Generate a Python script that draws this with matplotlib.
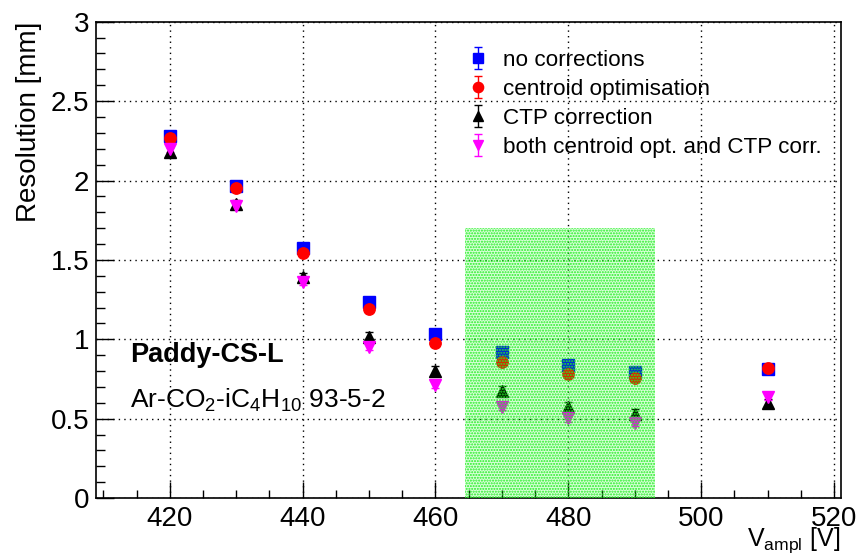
import matplotlib
matplotlib.use("Agg")
import matplotlib.pyplot as plt
from matplotlib.patches import Rectangle
from matplotlib.ticker import MultipleLocator, FuncFormatter

plt.rcParams["font.family"] = ["Liberation Sans", "DejaVu Sans"]
plt.rcParams["mathtext.fontset"] = "custom"
plt.rcParams["mathtext.rm"] = "Liberation Sans"
plt.rcParams["mathtext.it"] = "Liberation Sans"
plt.rcParams["hatch.linewidth"] = 1.0

# Amplification voltages [V]
voltage = [420, 430, 440, 450, 460, 470, 480, 490, 510]

# Spatial resolution [mm] for each reconstruction variant
res_none = [2.28, 1.965, 1.575, 1.237, 1.033, 0.922, 0.836, 0.792, 0.815]
res_centroid = [2.265, 1.955, 1.545, 1.191, 0.975, 0.857, 0.781, 0.756, 0.819]
res_ctp = [2.18, 1.85, 1.39, 1.013, 0.802, 0.676, 0.576, 0.530, 0.597]
res_both = [2.20, 1.84, 1.36, 0.950, 0.712, 0.576, 0.502, 0.471, 0.635]

err_none = [0.01] * 9
err_centroid = [0.01] * 9
err_ctp = [0.03] * 9
err_both = [0.02] * 9

labels = ["no corrections", "centroid optimisation", "CTP correction",
          "both centroid opt. and CTP corr."]

# Highlighted working range
band_x = (464.5, 493.0)
band_top = 1.7

W, H = 859, 554
fig = plt.figure(figsize=(W / 100, H / 100), dpi=100)
ax = fig.add_axes([96 / W, 1 - 498.1 / H, (840.7 - 96) / W, (498.1 - 21.7) / H])

series = [
    (res_none, err_none, "s", "#0000ff", 8.0),
    (res_centroid, err_centroid, "o", "#ff0000", 8.2),
    (res_ctp, err_ctp, "^", "#000000", 8.5),
    (res_both, err_both, "v", "#ff00ff", 8.5),
]
handles = []
for (y, e, m, c, ms), lab in zip(series, labels):
    h = ax.errorbar(voltage, y, yerr=e, fmt=m, color=c, ms=ms, mec=c,
                    elinewidth=1.0, capsize=3, capthick=1.0, label=lab, zorder=3)
    handles.append(h)

# dotted green band drawn above the markers
ax.add_patch(Rectangle((band_x[0], 0), band_x[1] - band_x[0], band_top,
                       facecolor=(0.0, 1.0, 0.0, 0.15), edgecolor="none", zorder=4))
ax.add_patch(Rectangle((band_x[0], 0), band_x[1] - band_x[0], band_top,
                       facecolor="none", edgecolor="#22ee22", hatch="......",
                       linewidth=0, zorder=4))

ax.set_xlim(408.9, 521.0)
ax.set_ylim(0, 3)

ax.xaxis.set_major_locator(MultipleLocator(20))
ax.xaxis.set_minor_locator(MultipleLocator(5))
ax.yaxis.set_major_locator(MultipleLocator(0.5))
ax.yaxis.set_minor_locator(MultipleLocator(0.1))
ax.yaxis.set_major_formatter(FuncFormatter(lambda v, p: f"{v:g}"))

ax.tick_params(axis="both", which="both", direction="in", top=False, right=False,
               labelsize=20, width=1.0)
ax.tick_params(axis="x", which="major", length=11.5, pad=6)
ax.tick_params(axis="x", which="minor", length=5.5)
ax.tick_params(axis="y", which="major", length=13, pad=5)
ax.tick_params(axis="y", which="minor", length=6.5)

ax.grid(True, which="major", color="black", linestyle=(0, (1, 3)), linewidth=1.0)
ax.set_axisbelow(True)
for s in ax.spines.values():
    s.set_linewidth(1.2)

ax.set_ylabel("Resolution [mm]", fontsize=20, loc="top")
ax.yaxis.set_label_coords(-0.072, 1.0)
ax.set_xlabel(r"V$_{\mathrm{ampl}}$ [V]", fontsize=18, loc="right")
ax.xaxis.set_label_coords(1.0, -0.057)

ax.text(0.0457, 0.300, "Paddy-CS-L", transform=ax.transAxes, fontsize=19.5,
        fontweight="bold", va="center", ha="left", zorder=5)
ax.text(0.0457, 0.206, r"Ar-CO$_2$-iC$_4$H$_{10}$ 93-5-2", transform=ax.transAxes,
        fontsize=19, va="center", ha="left", zorder=5)

leg = ax.legend(handles=handles, loc="upper left", frameon=False, fontsize=16.2,
                bbox_to_anchor=((467 - 96) / (840.7 - 96), 1 - (50 - 21.7) / (498.1 - 21.7)),
                handlelength=1.0, handletextpad=0.6, labelspacing=0.35, borderpad=0,
                borderaxespad=0, markerscale=0.9)
leg.set_zorder(6)

fig.savefig("out.png", dpi=100)
